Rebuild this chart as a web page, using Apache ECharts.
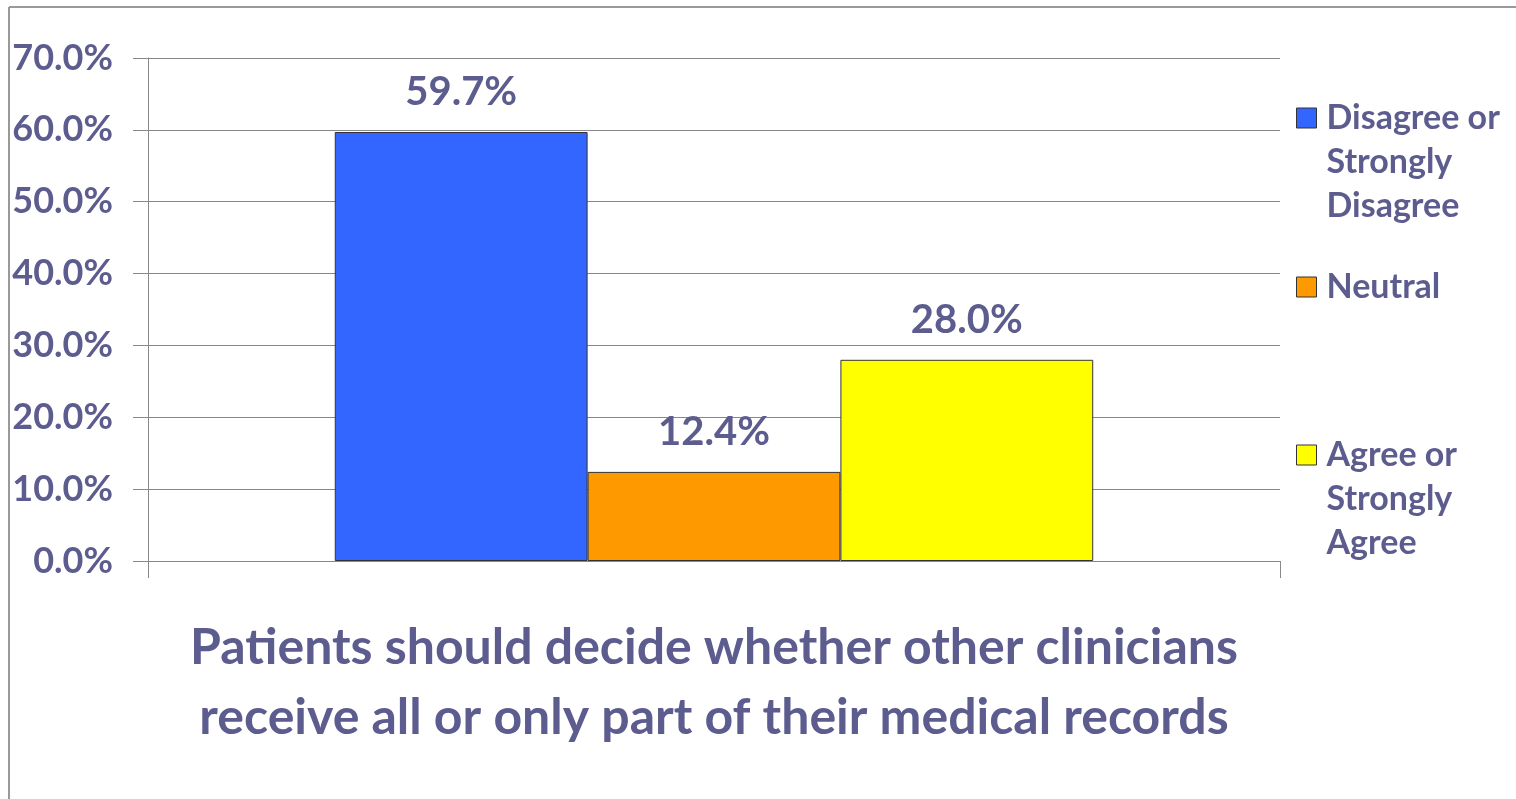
<!DOCTYPE html>
<html>
<head>
<meta charset="utf-8">
<script src="https://cdn.jsdelivr.net/npm/echarts@6/dist/echarts.min.js"></script>
<style>
html,body{margin:0;padding:0;background:#fff;}
#c{width:1516px;height:799px;}
</style>
</head>
<body>
<div id="c"></div>
<script>
var categories = ['Patients should decide whether other clinicians\nreceive all or only part of their medical records'];
var seriesNames = ['Disagree or\nStrongly\nDisagree', 'Neutral', 'Agree or\nStrongly\nAgree'];
var seriesValues = [[59.7], [12.4], [28.0]];
var seriesColors = ['#3366FF', '#FF9900', '#FFFF00'];
var yTicks = [0, 10, 20, 30, 40, 50, 60, 70];

var textColor = '#5c5c8f';
var fontFam = 'Lato, "Open Sans", sans-serif';

var chart = echarts.init(document.getElementById('c'));

var series = seriesNames.map(function (n, i) {
  return {
    name: n,
    type: 'bar',
    data: seriesValues[i],
    barGap: '0%',
    barCategoryGap: '33%',
    itemStyle: { color: seriesColors[i], borderColor: '#333', borderWidth: 1 },
    label: {
      show: true, position: 'top', distance: 20,
      formatter: function (p) { return p.value.toFixed(1) + '%'; },
      color: textColor, fontFamily: fontFam, fontWeight: 'bold', fontSize: 40, lineHeight: 40
    }
  };
});

function mkLegend(i, top) {
  return {
    data: [seriesNames[i]],
    left: 1296, top: top, orient: 'vertical', padding: 0,
    itemWidth: 20, itemHeight: 20, itemGap: 0,
    icon: 'rect',
    selectedMode: false,
    itemStyle: { borderColor: '#333', borderWidth: 1 },
    formatter: function (name) {
      var lines = name.split('\n');
      // pad with blank lines so the marker sits beside the first line
      var pad = [];
      for (var k = 1; k < lines.length; k++) pad.push('');
      return pad.concat(lines).map(function (l) { return '{t|' + l + '}'; }).join('\n');
    },
    textStyle: {
      color: textColor, fontFamily: fontFam, fontWeight: 'bold', fontSize: 34, lineHeight: 44,
      rich: { t: { color: textColor, fontFamily: fontFam, fontWeight: 'bold', fontSize: 34, lineHeight: 44, padding: [0, 0, 0, 5] } }
    }
  };
}

chart.setOption({
  animation: false,
  backgroundColor: '#fff',
  graphic: [
    { type: 'line', shape: { x1: 9, y1: 7, x2: 1516, y2: 7 }, style: { stroke: '#999', lineWidth: 2 }, silent: true, z: -1 },
    { type: 'line', shape: { x1: 9, y1: 7, x2: 9, y2: 799 }, style: { stroke: '#999', lineWidth: 2 }, silent: true, z: -1 }
  ],
  legend: [mkLegend(0, 8), mkLegend(1, 265), mkLegend(2, 345)],
  grid: { left: 148, right: 236, top: 58, bottom: 238 },
  xAxis: {
    type: 'category', data: categories,
    axisLine: { show: true, lineStyle: { color: '#888', width: 1 } },
    axisTick: { show: true, length: 17, lineStyle: { color: '#888' } },
    axisLabel: { show: false },
    name: categories[0], nameLocation: 'middle', nameGap: 52,
    nameTextStyle: { color: textColor, fontFamily: fontFam, fontWeight: 'bold', fontSize: 50, lineHeight: 70, verticalAlign: 'top' }
  },
  yAxis: {
    type: 'value', min: 0, max: 70, interval: 10,
    axisLine: { show: true, lineStyle: { color: '#888', width: 1 } },
    axisTick: { show: true, length: 15, lineStyle: { color: '#888' } },
    splitLine: { show: true, lineStyle: { color: '#888', width: 1 } },
    axisLabel: {
      margin: 35, color: textColor, fontFamily: fontFam, fontWeight: 'bold', fontSize: 36,
      formatter: function (v) { return v.toFixed(1) + '%'; }
    }
  },
  series: series
});
</script>
</body>
</html>
